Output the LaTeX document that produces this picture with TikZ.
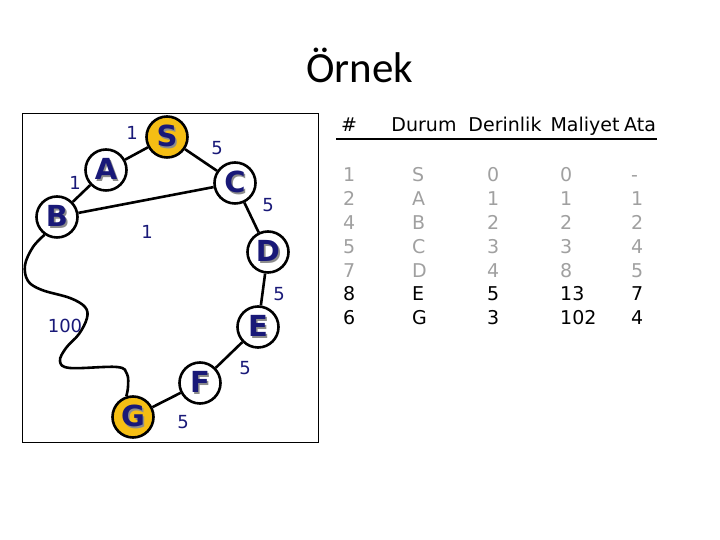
\documentclass[tikz,border=0pt]{standalone}
\usepackage{fontspec}
\setmainfont{DejaVu Sans}
\newfontfamily\titlefont{Carlito}
\newfontfamily\letfont{DejaVu Sans}
\definecolor{navy}{RGB}{25,25,120}
\definecolor{gold}{RGB}{245,190,20}
\definecolor{rowgray}{RGB}{160,160,160}
\newcommand\lett[1]{\makebox[0pt][l]{\hspace{1.6pt}\raisebox{-1.6pt}{\textcolor{black!45}{#1}}}\textcolor{navy}{#1}}
\begin{document}
\begin{tikzpicture}[x=1pt,y=1pt,
  vert/.style={circle,draw=black,line width=2.6pt,fill=white,minimum size=41pt,inner sep=0pt,font=\letfont\fontsize{29}{32}\selectfont\bfseries},
  goal/.style={vert,fill=gold},
  edge/.style={line width=2.6pt,black},
  wlab/.style={inner sep=0pt,text=navy,font=\fontsize{18}{21}\selectfont},
  hdc/.style={anchor=base,inner sep=0pt,font=\fontsize{19}{22}\selectfont},
  hdr/.style={anchor=base west,inner sep=0pt,font=\fontsize{19}{22}\selectfont},
  old/.style={hdr,text=rowgray},
  new/.style={hdr,text=black}]
\useasboundingbox (0,0) rectangle (720,540);
\node[inner sep=0pt,anchor=base,font=\titlefont\fontsize{43}{48}\selectfont] (title) at (360,457) {Örnek};
\draw[line width=1pt] (22,97) rectangle (318,426);
% nodes
\node[goal] (S) at (167,403) {\lett{S}};
\node[vert] (A) at (106,370) {\lett{A}};
\node[vert] (B) at (57,323) {\lett{B}};
\node[vert] (C) at (235,357) {\lett{C}};
\node[vert] (D) at (268,288) {\lett{D}};
\node[vert] (E) at (258,213) {\lett{E}};
\node[vert] (F) at (200,157) {\lett{F}};
\node[goal] (G) at (133,123) {\lett{G}};
% edges
\draw[edge] (A) -- (S);
\draw[edge] (B) -- (A);
\draw[edge] (S) -- (C);
\draw[edge] (B) -- (C);
\draw[edge] (C) -- (D);
\draw[edge] (D) -- (E);
\draw[edge] (E) -- (F);
\draw[edge] (F) -- (G);
\draw[edge,line join=round] plot[smooth,tension=0.6] coordinates {(B.235) (33,293) (25,275) (28,259) (42,250) (70,242) (85,233) (87,222) (79,206) (66,192) (60,179) (70,172) (117,173) (127,166) (128,153) (G.108)};
% weights
\node[wlab] (wAS) at (132,407) {1};
\node[wlab] (wAB) at (75,357) {1};
\node[wlab] (wSC) at (217,392) {5};
\node[wlab] (wCD) at (268,335) {5};
\node[wlab] (wBC) at (147,308) {1};
\node[wlab] (wDE) at (279,246) {5};
\node[wlab] (wBG) at (65,214) {100};
\node[wlab] (wEF) at (245,172) {5};
\node[wlab] (wFG) at (183,118) {5};
% table header
\node[hdc] (h1) at (349,408) {\#};
\node[hdc] (h2) at (424,408) {Durum};
\node[hdc] (h3) at (505,408) {Derinlik};
\node[hdc] (h4) at (585,408) {Maliyet};
\node[hdc] (h5) at (640,408) {Ata};
\coordinate (ls) at (336,401);
\coordinate (le) at (657,401);
\draw[line width=2.4pt] (ls) -- (le);
% rows
\foreach \y/\a/\b/\c/\d/\e/\s [count=\i] in {
  358/1/S/0/0/-/old, 334.2/2/A/1/1/1/old, 310.4/4/B/2/2/2/old,
  286.6/5/C/3/3/4/old, 262.8/7/D/4/8/5/old, 239/8/E/5/13/7/new,
  215.2/6/G/3/102/4/new}{
  \node[\s] (r\i a) at (343,\y) {\a};
  \node[\s] (r\i b) at (412,\y) {\b};
  \node[\s] (r\i c) at (487,\y) {\c};
  \node[\s] (r\i d) at (560,\y) {\d};
  \node[\s] (r\i e) at (631,\y) {\e};
}
\end{tikzpicture}
\end{document}
